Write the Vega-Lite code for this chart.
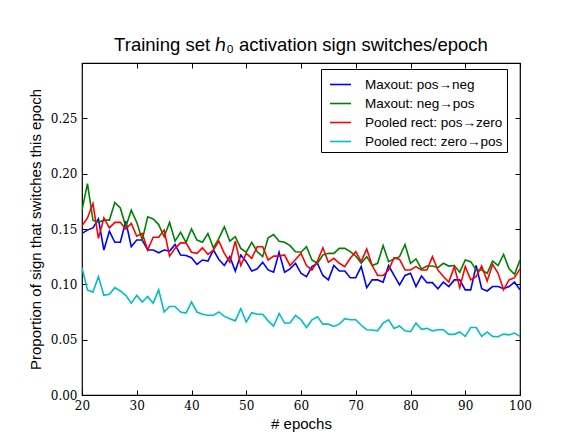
{
  "$schema": "https://vega.github.io/schema/vega-lite/v6.json",
  "autosize": "none",
  "width": 438,
  "height": 332,
  "padding": {"left": 82, "top": 63, "right": 48, "bottom": 52},
  "background": "white",
  "config": {
    "view": {"stroke": "black", "strokeWidth": 1.2},
    "axis": {
      "grid": false,
      "domain": false,
      "tickColor": "black",
      "tickSize": -5,
      "tickWidth": 1,
      "labelFlush": false,
      "labelFont": "DejaVu Serif",
      "labelFontSize": 12,
      "labelColor": "black",
      "titleFont": "Liberation Sans",
      "titleFontSize": 15,
      "titleFontWeight": "normal",
      "titleColor": "black"
    }
  },
  "title": {
    "text": "Training set ℎ₀ activation sign switches/epoch",
    "font": "Liberation Sans",
    "fontSize": 18.5,
    "fontWeight": "normal",
    "color": "black",
    "anchor": "middle",
    "offset": 8
  },
  "data": {
    "values": [
      {"e":20,"b":0.146,"g":0.167,"r":0.153,"c":0.115},
      {"e":21,"b":0.149,"g":0.191,"r":0.160,"c":0.095},
      {"e":22,"b":0.151,"g":0.158,"r":0.173,"c":0.093},
      {"e":23,"b":0.159,"g":0.156,"r":0.1415,"c":0.107},
      {"e":24,"b":0.131,"g":0.158,"r":0.160,"c":0.090},
      {"e":25,"b":0.148,"g":0.158,"r":0.151,"c":0.091},
      {"e":26,"b":0.138,"g":0.174,"r":0.156,"c":0.097},
      {"e":27,"b":0.138,"g":0.169,"r":0.156,"c":0.094},
      {"e":28,"b":0.157,"g":0.152,"r":0.150,"c":0.090},
      {"e":29,"b":0.134,"g":0.167,"r":0.155,"c":0.083},
      {"e":30,"b":0.140,"g":0.156,"r":0.1435,"c":0.090},
      {"e":31,"b":0.140,"g":0.140,"r":0.146,"c":0.084},
      {"e":32,"b":0.131,"g":0.161,"r":0.131,"c":0.089},
      {"e":33,"b":0.131,"g":0.159,"r":0.1425,"c":0.083},
      {"e":34,"b":0.1285,"g":0.154,"r":0.1425,"c":0.095},
      {"e":35,"b":0.131,"g":0.143,"r":0.149,"c":0.075},
      {"e":36,"b":0.130,"g":0.156,"r":0.1255,"c":0.080},
      {"e":37,"b":0.136,"g":0.139,"r":0.1325,"c":0.080},
      {"e":38,"b":0.1265,"g":0.147,"r":0.1375,"c":0.075},
      {"e":39,"b":0.126,"g":0.138,"r":0.1375,"c":0.074},
      {"e":40,"b":0.124,"g":0.150,"r":0.129,"c":0.084},
      {"e":41,"b":0.118,"g":0.140,"r":0.128,"c":0.075},
      {"e":42,"b":0.122,"g":0.138,"r":0.133,"c":0.073},
      {"e":43,"b":0.121,"g":0.146,"r":0.127,"c":0.072},
      {"e":44,"b":0.131,"g":0.133,"r":0.131,"c":0.072},
      {"e":45,"b":0.1225,"g":0.1415,"r":0.139,"c":0.075},
      {"e":46,"b":0.117,"g":0.152,"r":0.128,"c":0.071},
      {"e":47,"b":0.125,"g":0.139,"r":0.120,"c":0.069},
      {"e":48,"b":0.112,"g":0.143,"r":0.139,"c":0.067},
      {"e":49,"b":0.1265,"g":0.1325,"r":0.117,"c":0.078},
      {"e":50,"b":0.1205,"g":0.129,"r":0.128,"c":0.066},
      {"e":51,"b":0.112,"g":0.138,"r":0.1235,"c":0.0743},
      {"e":52,"b":0.114,"g":0.1295,"r":0.134,"c":0.073},
      {"e":53,"b":0.120,"g":0.125,"r":0.134,"c":0.073},
      {"e":54,"b":0.113,"g":0.142,"r":0.122,"c":0.067},
      {"e":55,"b":0.111,"g":0.145,"r":0.1255,"c":0.0623},
      {"e":56,"b":0.129,"g":0.139,"r":0.1255,"c":0.0737},
      {"e":57,"b":0.111,"g":0.138,"r":0.1265,"c":0.065},
      {"e":58,"b":0.114,"g":0.135,"r":0.117,"c":0.065},
      {"e":59,"b":0.119,"g":0.1295,"r":0.1225,"c":0.072},
      {"e":60,"b":0.110,"g":0.129,"r":0.128,"c":0.068},
      {"e":61,"b":0.107,"g":0.134,"r":0.117,"c":0.061},
      {"e":62,"b":0.116,"g":0.122,"r":0.113,"c":0.068},
      {"e":63,"b":0.119,"g":0.119,"r":0.121,"c":0.0707},
      {"e":64,"b":0.108,"g":0.1265,"r":0.133,"c":0.064},
      {"e":65,"b":0.104,"g":0.128,"r":0.120,"c":0.064},
      {"e":66,"b":0.117,"g":0.128,"r":0.1235,"c":0.062},
      {"e":67,"b":0.112,"g":0.1325,"r":0.119,"c":0.064},
      {"e":68,"b":0.112,"g":0.1325,"r":0.116,"c":0.069},
      {"e":69,"b":0.106,"g":0.1295,"r":0.1235,"c":0.068},
      {"e":70,"b":0.106,"g":0.1255,"r":0.1295,"c":0.068},
      {"e":71,"b":0.116,"g":0.119,"r":0.1205,"c":0.063},
      {"e":72,"b":0.097,"g":0.125,"r":0.132,"c":0.059},
      {"e":73,"b":0.104,"g":0.117,"r":0.117,"c":0.0587},
      {"e":74,"b":0.104,"g":0.119,"r":0.108,"c":0.058},
      {"e":75,"b":0.102,"g":0.135,"r":0.108,"c":0.065},
      {"e":76,"b":0.117,"g":0.1205,"r":0.113,"c":0.068},
      {"e":77,"b":0.108,"g":0.123,"r":0.124,"c":0.0602},
      {"e":78,"b":0.0995,"g":0.125,"r":0.1225,"c":0.0623},
      {"e":79,"b":0.108,"g":0.136,"r":0.113,"c":0.058},
      {"e":80,"b":0.110,"g":0.119,"r":0.113,"c":0.0572},
      {"e":81,"b":0.098,"g":0.123,"r":0.116,"c":0.065},
      {"e":82,"b":0.1075,"g":0.114,"r":0.113,"c":0.0593},
      {"e":83,"b":0.1015,"g":0.1165,"r":0.113,"c":0.0602},
      {"e":84,"b":0.1015,"g":0.1165,"r":0.125,"c":0.058},
      {"e":85,"b":0.096,"g":0.115,"r":0.113,"c":0.059},
      {"e":86,"b":0.102,"g":0.119,"r":0.107,"c":0.059},
      {"e":87,"b":0.098,"g":0.1165,"r":0.102,"c":0.0548},
      {"e":88,"b":0.104,"g":0.117,"r":0.116,"c":0.0548},
      {"e":89,"b":0.104,"g":0.111,"r":0.097,"c":0.057},
      {"e":90,"b":0.095,"g":0.122,"r":0.116,"c":0.053},
      {"e":91,"b":0.095,"g":0.1205,"r":0.104,"c":0.061},
      {"e":92,"b":0.117,"g":0.113,"r":0.107,"c":0.061},
      {"e":93,"b":0.096,"g":0.113,"r":0.1165,"c":0.053},
      {"e":94,"b":0.094,"g":0.110,"r":0.103,"c":0.057},
      {"e":95,"b":0.098,"g":0.121,"r":0.118,"c":0.053},
      {"e":96,"b":0.098,"g":0.117,"r":0.110,"c":0.0527},
      {"e":97,"b":0.096,"g":0.127,"r":0.095,"c":0.055},
      {"e":98,"b":0.098,"g":0.114,"r":0.104,"c":0.0543},
      {"e":99,"b":0.102,"g":0.109,"r":0.106,"c":0.056},
      {"e":100,"b":0.095,"g":0.122,"r":0.114,"c":0.053}
    ]
  },
  "transform": [{"fold": ["b", "g", "r", "c"], "as": ["series", "value"]}],
  "layer": [
    {
      "mark": {"type": "line", "strokeWidth": 1.6, "clip": true},
      "encoding": {
        "x": {
          "field": "e", "type": "quantitative",
          "scale": {"domain": [20, 100], "nice": false, "zero": false},
          "axis": {"orient": "bottom", "values": [20, 30, 40, 50, 60, 70, 80, 90, 100], "labelPadding": 10, "title": "# epochs", "titlePadding": 5}
        },
        "y": {
          "field": "value", "type": "quantitative",
          "scale": {"domain": [0, 0.3], "nice": false},
          "axis": {"orient": "left", "values": [0, 0.05, 0.1, 0.15, 0.2, 0.25], "format": ".2f", "labelPadding": 10, "title": "Proportion of sign that switches this epoch", "titlePadding": 7}
        },
        "color": {
          "field": "series", "type": "nominal",
          "scale": {"domain": ["b", "g", "r", "c"], "range": ["#0000ff", "#008000", "#ff0000", "#00bfbf"]},
          "legend": {
            "title": null,
            "orient": "none",
            "legendX": 239,
            "legendY": 6,
            "direction": "vertical",
            "symbolType": "stroke",
            "symbolSize": 440,
            "symbolStrokeWidth": 1.6,
            "symbolOffset": 4,
            "labelFont": "Liberation Sans",
            "labelFontSize": 13.5,
            "labelColor": "black",
            "labelOffset": 13,
            "rowPadding": 1,
            "padding": 4,
            "strokeColor": "black",
            "fillColor": "white",
            "cornerRadius": 0,
            "labelExpr": "{'b': 'Maxout: pos→neg', 'g': 'Maxout: neg→pos', 'r': 'Pooled rect: pos→zero', 'c': 'Pooled rect: zero→pos'}[datum.value]"
          }
        }
      }
    },
    {
      "mark": {"type": "line", "opacity": 0},
      "encoding": {
        "x": {
          "field": "e", "type": "quantitative",
          "axis": {"orient": "top", "values": [20, 30, 40, 50, 60, 70, 80, 90, 100], "labels": false, "title": null}
        },
        "y": {
          "field": "value", "type": "quantitative",
          "axis": {"orient": "right", "values": [0, 0.05, 0.1, 0.15, 0.2, 0.25], "labels": false, "title": null}
        }
      }
    }
  ],
  "resolve": {"axis": {"x": "independent", "y": "independent"}}
}
